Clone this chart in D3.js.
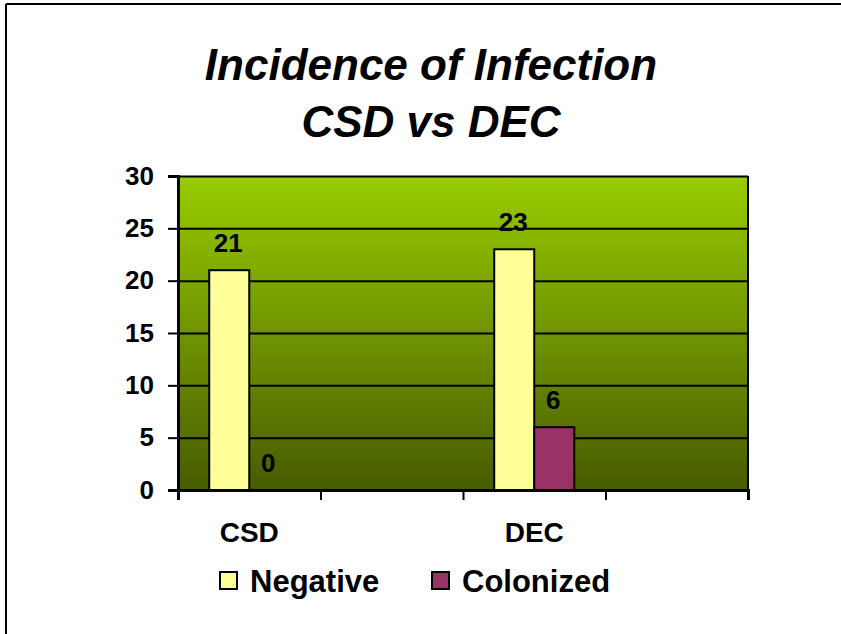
<!DOCTYPE html>
<html>
<head>
<meta charset="utf-8">
<script src="https://cdn.jsdelivr.net/npm/d3@7"></script>
<style>
  body { margin: 0; background: #fff; }
  svg text { font-family: "Liberation Sans", Arial, sans-serif; font-weight: bold; fill: #000; }
</style>
</head>
<body>
<div id="chart"></div>
<script>
// data
let categories = ["CSD", "", "DEC", ""];
let seriesNames = ["Negative", "Colonized"];
let negative = [21, null, 23, null];
let colonized = [0, null, 6, null];
let yTicks = [0, 5, 10, 15, 20, 25, 30];
let titleLines = ["Incidence of Infection", "CSD vs DEC"];
let colors = {"Negative": "#ffff99", "Colonized": "#993366"};

let W = 841, H = 634;
let margin = {top: 176, right: 93, bottom: 144, left: 178};
let width = W - margin.left - margin.right;
let height = H - margin.top - margin.bottom;

let svg = d3.select("#chart").append("svg")
    .attr("width", W).attr("height", H);

// outer frame (top + left only)
svg.append("line").attr("x1", 6).attr("x2", W).attr("y1", 4).attr("y2", 4)
    .attr("stroke", "#000").attr("stroke-width", 2);
svg.append("line").attr("x1", 6).attr("x2", 6).attr("y1", 4).attr("y2", H)
    .attr("stroke", "#000").attr("stroke-width", 2);

// title
svg.append("text").attr("x", 430).attr("text-anchor", "middle")
    .style("font-size", "44px").style("font-style", "italic")
    .selectAll("tspan").data(titleLines).enter().append("tspan")
    .attr("x", 431).attr("y", (d, i) => 80 + i * 57).text(d => d);

let defs = svg.append("defs");
let grad = defs.append("linearGradient").attr("id", "bg")
    .attr("x1", 0).attr("y1", 0).attr("x2", 0).attr("y2", 1);
grad.append("stop").attr("offset", "0%").attr("stop-color", "#99cc00");
grad.append("stop").attr("offset", "100%").attr("stop-color", "#475c00");

let g = svg.append("g").attr("transform", "translate(" + margin.left + "," + margin.top + ")");

let x = d3.scaleBand().domain(d3.range(categories.length)).range([0, width]);
let xs = d3.scaleBand().domain(seriesNames).range([0, x.bandwidth()]).paddingOuter(0.78);
let y = d3.scaleLinear().domain([0, 30]).range([height, 0]);

g.append("rect").attr("width", width).attr("height", height).attr("fill", "url(#bg)");

// gridlines
g.append("g").attr("class", "grid")
    .call(d3.axisLeft(y).tickValues(yTicks).tickSize(-width).tickFormat(""))
    .call(s => s.select(".domain").remove())
    .selectAll("line").attr("stroke", "#000").attr("stroke-width", 2);

// right border
g.append("line").attr("x1", width).attr("x2", width).attr("y1", 0).attr("y2", height)
    .attr("stroke", "#000").attr("stroke-width", 2);

// bars
let rows = categories.map((c, i) => ({i: i, vals: [
    {key: "Negative", value: negative[i]},
    {key: "Colonized", value: colonized[i]}
].filter(v => v.value != null)}));

let groups = g.selectAll(".grp").data(rows).enter().append("g")
    .attr("class", "grp").attr("transform", d => "translate(" + x(d.i) + ",0)");

groups.selectAll("rect").data(d => d.vals).enter().append("rect")
    .attr("x", d => xs(d.key)).attr("width", xs.bandwidth())
    .attr("y", d => y(d.value)).attr("height", d => height - y(d.value))
    .attr("fill", d => colors[d.key])
    .attr("stroke", "#000").attr("stroke-width", d => d.value > 0 ? 2 : 0);

groups.selectAll("text").data(d => d.vals).enter().append("text")
    .attr("x", d => xs(d.key) + xs.bandwidth() / 2 - 1)
    .attr("y", d => y(d.value) - 18)
    .attr("text-anchor", "middle").style("font-size", "26px")
    .text(d => d.value);

// axes
let yAxis = g.append("g").call(d3.axisLeft(y).tickValues(yTicks).tickSize(10).tickPadding(14));
yAxis.selectAll("text").style("font-size", "26px");

let xAxis = g.append("g").attr("transform", "translate(0," + height + ")")
    .call(d3.axisBottom(d3.scalePoint().domain(d3.range(categories.length + 1)).range([0, width]))
        .tickSize(10).tickFormat(""));
xAxis.selectAll("text").remove();

g.append("g").attr("transform", "translate(0," + height + ")")
    .selectAll("text").data(categories).enter().append("text")
    .attr("x", (d, i) => x(i) + x.bandwidth() / 2)
    .attr("y", 52).attr("text-anchor", "middle").style("font-size", "28px")
    .text(d => d);

g.selectAll(".domain").attr("stroke", "#000").attr("stroke-width", 3);
g.selectAll(".tick line").attr("stroke", "#000").attr("stroke-width", 2);

// legend
let legend = svg.append("g");
let legendX = [220, 432];
seriesNames.forEach((s, i) => {
  legend.append("rect").attr("x", legendX[i]).attr("y", 572).attr("width", 17).attr("height", 17)
      .attr("fill", colors[s]).attr("stroke", "#000").attr("stroke-width", 2);
  legend.append("text").attr("x", legendX[i] + 30).attr("y", 592)
      .style("font-size", "31px").text(s);
});
</script>
</body>
</html>
